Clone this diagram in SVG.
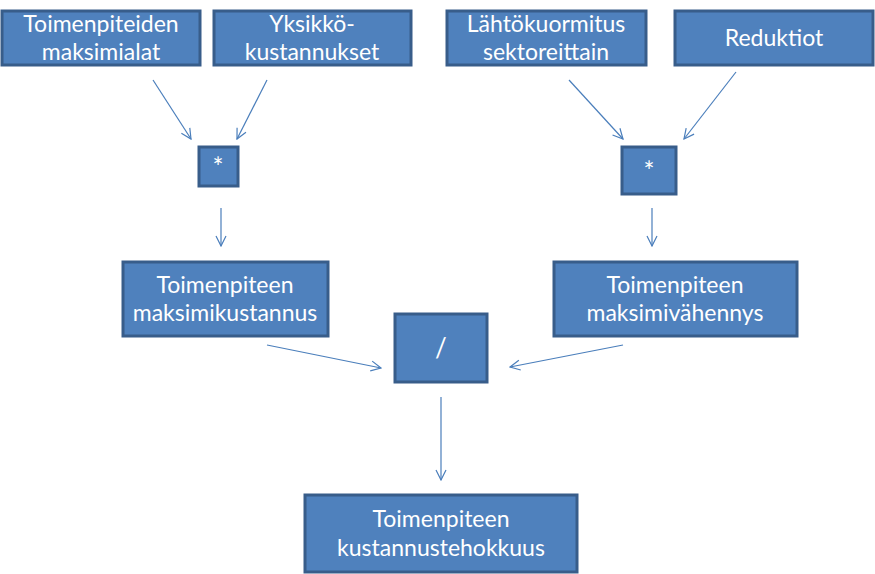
<svg xmlns="http://www.w3.org/2000/svg" width="875" height="574" viewBox="0 0 875 574">
<style>
.n rect{fill:#4F81BD;stroke:#385D8A;stroke-width:3}
.n text{fill:#fff;font-family:Lato,"Open Sans","Liberation Sans",sans-serif;font-size:23px;text-anchor:middle}
.n text.op{font-size:26px}
.c line{stroke:#4A7EBB;stroke-width:1.2;fill:none;marker-end:url(#ah)}
</style>
<defs>
<marker id="ah" viewBox="0 0 12 12" refX="11" refY="6" markerWidth="12" markerHeight="12" markerUnits="userSpaceOnUse" orient="auto">
<polyline points="1,1 11,6 1,11" fill="none" stroke="#4A7EBB" stroke-width="1.2"/>
</marker>
</defs>
<g class="c">
<line x1="153" y1="80" x2="191" y2="139"/>
<line x1="267" y1="80" x2="237" y2="139"/>
<line x1="569" y1="80" x2="623" y2="139"/>
<line x1="736" y1="72" x2="684" y2="139"/>
<line x1="221" y1="208" x2="221" y2="246"/>
<line x1="652" y1="208" x2="652" y2="246"/>
<line x1="267" y1="345" x2="381" y2="368"/>
<line x1="623" y1="345" x2="510" y2="367"/>
<line x1="441" y1="397" x2="441" y2="480"/>
</g>
<g id="n1" class="n"><rect x="2" y="11" width="198" height="54"/><text x="101" y="32">Toimenpiteiden</text><text x="101" y="60">maksimialat</text></g>
<g id="n2" class="n"><rect x="214" y="11" width="197" height="54"/><text x="312" y="32">Yksikkö-</text><text x="312" y="60">kustannukset</text></g>
<g id="n3" class="n"><rect x="447" y="11" width="199" height="54"/><text x="546" y="32">Lähtökuormitus</text><text x="546" y="60">sektoreittain</text></g>
<g id="n4" class="n"><rect x="675" y="11" width="198" height="54"/><text x="774" y="46">Reduktiot</text></g>
<g id="m1" class="n"><rect x="199" y="147" width="39" height="39"/><text class="op" x="218" y="177">*</text></g>
<g id="m2" class="n"><rect x="622" y="147" width="54" height="47"/><text class="op" x="649" y="181">*</text></g>
<g id="n5" class="n"><rect x="123" y="262" width="205" height="74"/><text x="225" y="293">Toimenpiteen</text><text x="225" y="321">maksimikustannus</text></g>
<g id="n6" class="n"><rect x="554" y="262" width="243" height="74"/><text x="675" y="293">Toimenpiteen</text><text x="675" y="321">maksimivähennys</text></g>
<g id="d" class="n"><rect x="395" y="314" width="92" height="68"/><text class="op" x="441" y="357">/</text></g>
<g id="n7" class="n"><rect x="305" y="495" width="272" height="77"/><text x="441" y="527">Toimenpiteen</text><text x="441" y="556">kustannustehokkuus</text></g>
</svg>
